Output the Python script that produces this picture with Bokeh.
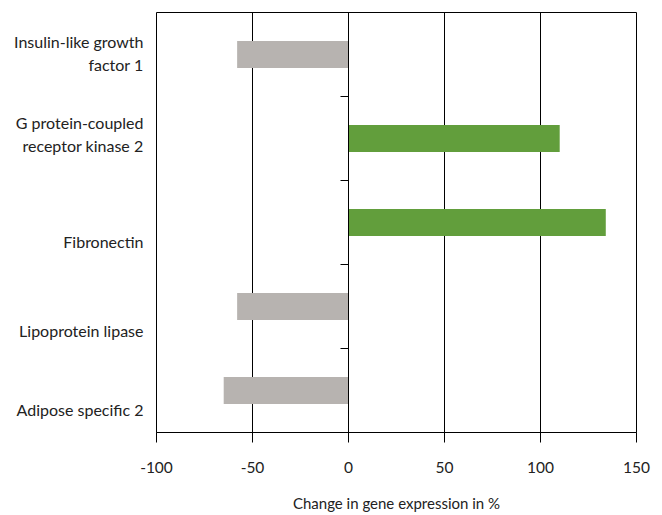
from bokeh.plotting import figure
from bokeh.models import Range1d, LinearAxis, FixedTicker, ColumnDataSource
from bokeh.embed import file_html
from bokeh.resources import INLINE

# Data (top to bottom)
genes = ["Insulin-like growth\nfactor 1", "G protein-coupled\nreceptor kinase 2",
         "Fibronectin", "Lipoprotein lipase", "Adipose specific 2"]
changes = [-58, 110, 134, -58, -65]
x_ticks = [-100, -50, 0, 50, 100, 150]

# layout: label offsets relative to band centers (as in the original artwork)
label_offsets = [0.02, 0.05, -0.23, -0.29, -0.23]

n = len(genes)
centers = [n - 0.5 - i for i in range(n)]
colors = ["#629e3c" if v > 0 else "#b7b3b0" for v in changes]

src = ColumnDataSource(dict(y=centers, right=changes, color=colors))

p = figure(frame_width=480, frame_height=420, output_backend="svg", toolbar_location=None,
           x_range=Range1d(-100, 150), y_range=Range1d(0, n),
           min_border_left=156, min_border_right=22, min_border_top=12, min_border_bottom=83,
           y_axis_location=None)
p.outline_line_color = "black"
p.outline_line_width = 1
p.background_fill_color = "white"
p.border_fill_color = "white"

p.hbar(y="y", left=0, right="right", height=0.32, color="color", source=src, line_color=None)

FONT = "Lato"
TXT = "#222222"
xa = p.xaxis[0]
xa.ticker = FixedTicker(ticks=x_ticks)
xa.major_label_overrides = {t: str(t) for t in x_ticks}
xa.axis_line_color = "black"
xa.major_tick_line_color = "black"
xa.major_tick_out = 10
xa.major_tick_in = 0
xa.minor_tick_line_color = None
xa.major_label_standoff = 19
xa.major_label_text_font = FONT
xa.major_label_text_font_size = "15.5px"
xa.major_label_text_color = TXT
xa.axis_label = "Change in gene expression in %"
xa.axis_label_text_font = FONT
xa.axis_label_text_font_size = "15px"
xa.axis_label_text_font_style = "normal"
xa.axis_label_text_color = TXT
xa.axis_label_standoff = 18

p.xgrid.ticker = FixedTicker(ticks=x_ticks)
p.xgrid.grid_line_color = "black"
p.xgrid.grid_line_width = 1
p.ygrid.grid_line_color = None

# label axis on the left
label_pos = [c + o for c, o in zip(centers, label_offsets)]
la = LinearAxis(ticker=FixedTicker(ticks=label_pos),
                major_label_overrides={lp: g for lp, g in zip(label_pos, genes)},
                axis_line_color=None, major_tick_line_color=None, minor_tick_line_color=None,
                major_label_standoff=7, major_label_text_font=FONT,
                major_label_text_align="right",
                major_label_text_font_size="16px", major_label_text_color=TXT)
p.add_layout(la, "left")

# category divider ticks on the zero line
za = LinearAxis(fixed_location=0, ticker=FixedTicker(ticks=list(range(1, n))),
                axis_line_color="black", major_tick_line_color="black",
                major_tick_out=8, major_tick_in=0, minor_tick_line_color=None,
                major_label_text_font_size="0px", major_label_text_color=None)
p.add_layout(za, "left")

open("out.html", "w").write(file_html(p, INLINE))
